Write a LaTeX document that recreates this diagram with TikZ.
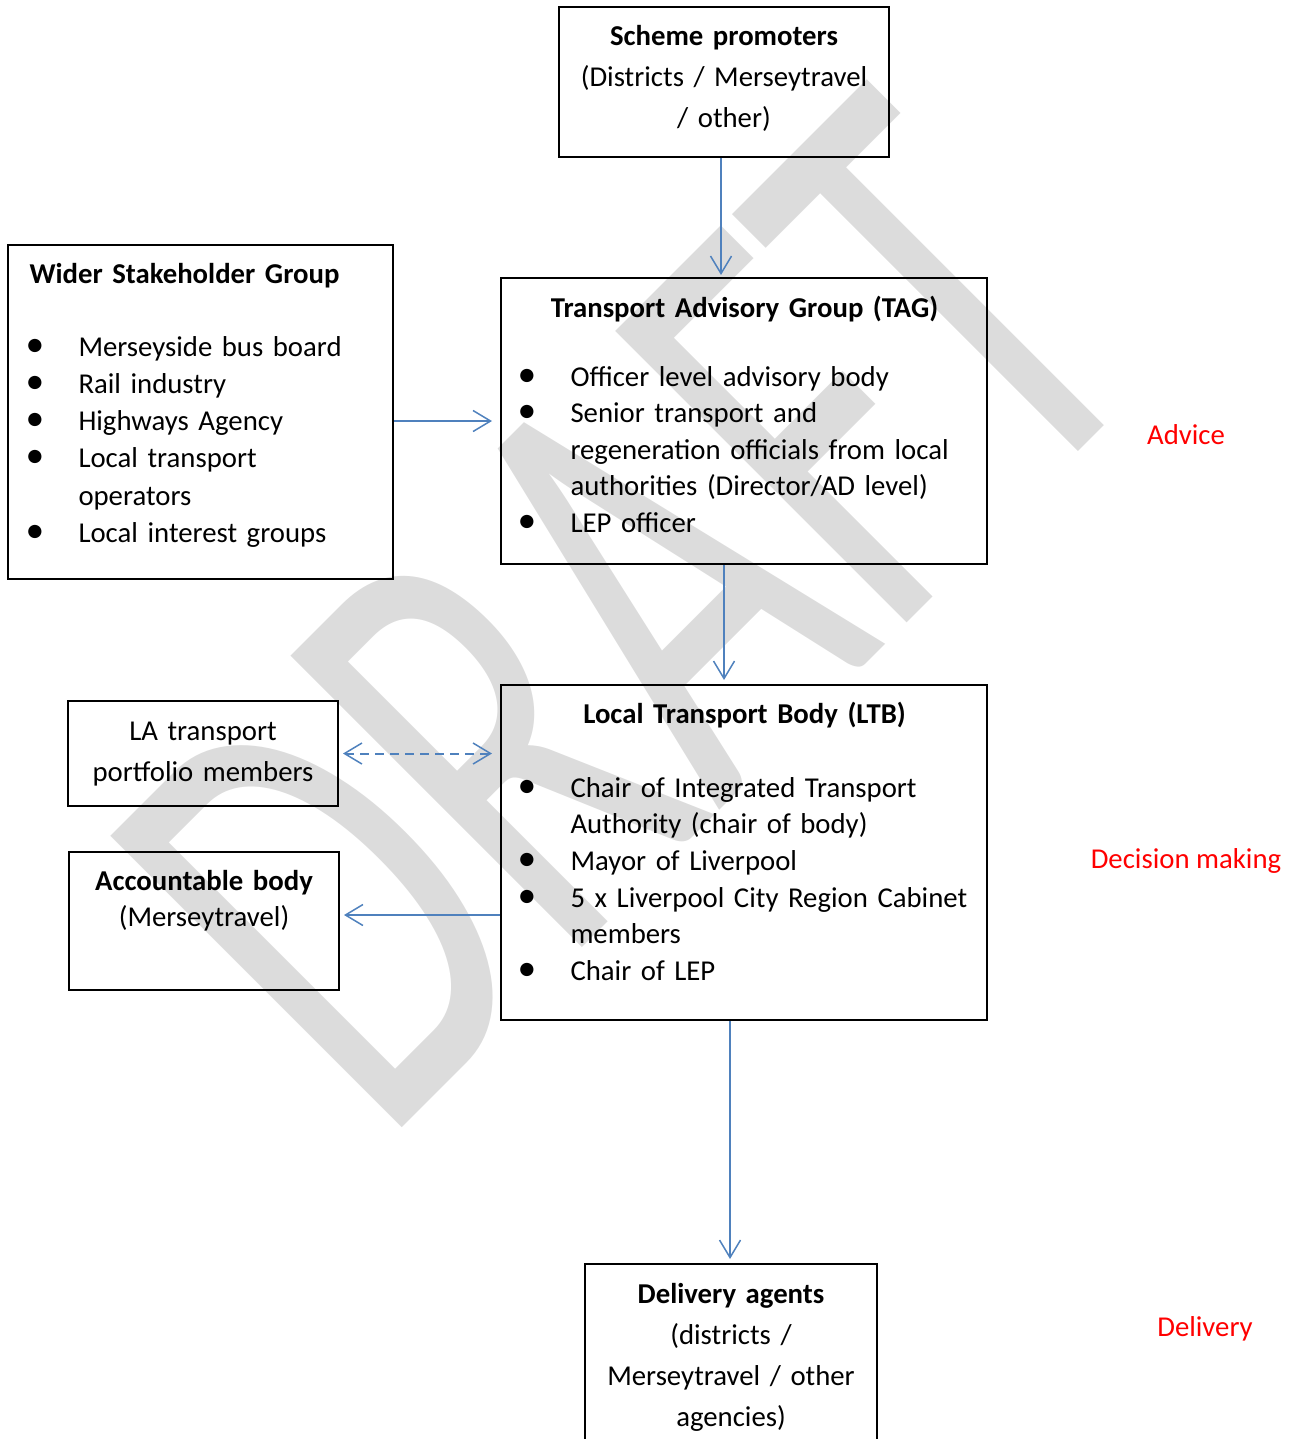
\documentclass[tikz,border=0pt]{standalone}
\usepackage{fontspec}
\setmainfont{Carlito}
\usepackage{tikz}
\usetikzlibrary{positioning,arrows.meta}
\definecolor{linkblue}{HTML}{4F81BD}
\definecolor{wmgray}{HTML}{DCDCDC}

\begin{document}
\begin{tikzpicture}[x=0.4pt,y=-0.4pt,
      font=\fontsize{11.5}{14.6}\selectfont,
      box/.style ={draw,line width=0.8pt,inner sep=0pt},
      txt/.style ={inner sep=0pt,align=left,anchor=base west},
      ctxt/.style={inner sep=0pt,align=center,anchor=base},
      note/.style={text=red,inner sep=0pt,anchor=base},
      link/.style={draw=linkblue,line width=0.6pt,-{Straight Barb[length=7pt,width=8.4pt]}},
      wm/.style  ={text=wmgray,inner sep=0pt,font=\fontsize{257}{257}\selectfont}]
      \useasboundingbox (0,0) rectangle (1294,1439);
      \hyphenpenalty=10000
      % Helper macros for the bullet lists
      \newcommand{\bulitem}{\makebox[19.6pt][l]{\hspace{-1.6pt}{\fontsize{15}{0}\selectfont\textbullet}}}
      \newcommand{\bulcont}{\hspace*{19.6pt}}
      % Watermark
      \node[wm,rotate=45,xscale=0.64,anchor=base west] (draft) at (382,1148) {DRAFT};
      % Boxes
      \node[box,minimum width=132pt,minimum height=60pt] (scheme) at (724,82) {};
      \node[box,minimum width=194.4pt,minimum height=114.4pt] (tag) at (744,421) {};
      \node[box,minimum width=154pt,minimum height=133.6pt] (wsg) at (200.5,412) {};
      \node[box,minimum width=194.4pt,minimum height=134pt] (ltb) at (744,852.5) {};
      \node[box,minimum width=108pt,minimum height=42pt] (la) at (203,753.5) {};
      \node[box,minimum width=108pt,minimum height=55.2pt] (acc) at (204,921) {};
      \node[box,minimum width=116.8pt,minimum height=88pt] (del) at (731,1374) {};
      % Box texts
      \node[ctxt,text width=124pt,font=\fontsize{11.5}{16.4}\selectfont] (schemetxt) at (724,46)
        {\textbf{Scheme promoters}\\(Districts / Merseytravel\\/ other)};
      \node[txt,text width=190pt] (tagtxt) at (521,317)
        {\makebox[178.4pt]{\bfseries Transport Advisory Group (TAG)}\\[13pt]
         \bulitem Officer level advisory body\\
         \bulitem Senior transport and\\
         \bulcont regeneration officials from local\\
         \bulcont authorities (Director/AD level)\\
         \bulitem LEP officer};
      \node[txt,text width=145pt,font=\fontsize{11.5}{14.9}\selectfont] (wsgtxt) at (29,283)
        {\textbf{Wider Stakeholder Group}\\[14.3pt]
         \bulitem Merseyside bus board\\
         \bulitem Rail industry\\
         \bulitem Highways Agency\\
         \bulitem Local transport\\
         \bulcont operators\\
         \bulitem Local interest groups};
      \node[txt,text width=190pt,font=\fontsize{11.5}{14.65}\selectfont] (ltbtxt) at (521,723)
        {\makebox[178.4pt]{\bfseries Local Transport Body (LTB)}\\[15pt]
         \bulitem Chair of Integrated Transport\\
         \bulcont Authority (chair of body)\\
         \bulitem Mayor of Liverpool\\
         \bulitem 5 x Liverpool City Region Cabinet\\
         \bulcont members\\
         \bulitem Chair of LEP};
      \node[ctxt,text width=100pt,font=\fontsize{11.5}{16.4}\selectfont] (latxt) at (203,740)
        {LA transport\\portfolio members};
      \node[ctxt,text width=100pt,font=\fontsize{11.5}{14.4}\selectfont] (acctxt) at (204,890)
        {\textbf{Accountable body}\\(Merseytravel)};
      \node[ctxt,text width=110pt,font=\fontsize{11.5}{16.4}\selectfont] (deltxt) at (731,1303)
        {\textbf{Delivery agents}\\(districts /\\Merseytravel / other\\agencies)};
      % Stage labels
      \node[note] (advice) at (1186,444) {Advice};
      \node[note] (decision) at (1186,868) {Decision making};
      \node[note] (delivery) at (1205,1336) {Delivery};
      % Connectors
      \draw[link,shorten >=0.8pt] ([xshift=-1.2pt]scheme.south) -- ([xshift=-1.2pt]scheme.south |- tag.north);
      \draw[link,shorten >=3.2pt] (wsg.east |- tag.west) -- (tag.west);
      \draw[link,shorten >=1.6pt] ([xshift=-8pt]tag.south) -- ([xshift=-8pt]tag.south |- ltb.north);
      \draw[link,line width=0.8pt,dash pattern=on 3.6pt off 2.4pt,
            {Straight Barb[length=7pt,width=8.4pt,line width=0.6pt]}-{Straight Barb[length=7pt,width=8.4pt,line width=0.6pt]},
            shorten <=1.6pt,shorten >=3.2pt] (la.east) -- (la.east -| ltb.west);
      \draw[link,shorten >=1.6pt] ([yshift=2.4pt]acc.east -| ltb.west) -- ([yshift=2.4pt]acc.east);
      \draw[link,shorten >=1.6pt] ([xshift=-5.6pt]ltb.south) -- ([xshift=-5.6pt]ltb.south |- del.north);
  \end{tikzpicture}
\end{document}
